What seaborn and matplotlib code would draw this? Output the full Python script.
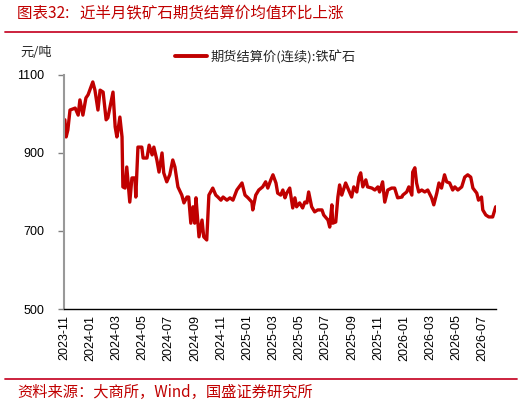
import pandas as pd
import numpy as np
import seaborn as sns
import matplotlib.pyplot as plt
import matplotlib.dates as mdates
from matplotlib.lines import Line2D

# ---- data ----
dates = [
    "2023-11-03", "2023-11-06", "2023-11-10", "2023-11-15", "2023-11-27", "2023-12-04",
    "2023-12-08", "2023-12-15", "2023-12-22", "2023-12-27", "2024-01-07", "2024-01-12",
    "2024-01-19", "2024-01-24", "2024-01-31", "2024-02-07", "2024-02-11", "2024-02-23",
    "2024-02-28", "2024-03-03", "2024-03-05", "2024-03-10", "2024-03-15", "2024-03-17",
    "2024-03-22", "2024-03-26", "2024-04-02", "2024-04-07", "2024-04-14", "2024-04-16",
    "2024-04-21", "2024-04-30", "2024-05-03", "2024-05-12", "2024-05-17", "2024-05-24",
    "2024-05-28", "2024-06-04", "2024-06-09", "2024-06-16", "2024-06-20", "2024-06-27",
    "2024-07-04", "2024-07-11", "2024-07-16", "2024-07-23", "2024-08-01", "2024-08-06",
    "2024-08-13", "2024-08-17", "2024-08-22", "2024-08-27", "2024-08-31", "2024-09-03",
    "2024-09-10", "2024-09-17", "2024-09-21", "2024-09-28", "2024-10-03", "2024-10-12",
    "2024-10-19", "2024-10-24", "2024-10-31", "2024-11-05", "2024-11-14", "2024-11-21",
    "2024-11-28", "2024-12-07", "2024-12-19", "2024-12-26", "2025-01-02", "2025-01-11",
    "2025-01-13", "2025-01-20", "2025-01-27", "2025-02-05", "2025-02-12", "2025-02-17",
    "2025-02-24", "2025-03-01", "2025-03-08", "2025-03-12", "2025-03-19", "2025-03-24",
    "2025-03-29", "2025-04-02", "2025-04-09", "2025-04-16", "2025-04-21", "2025-04-25",
    "2025-05-02", "2025-05-09", "2025-05-14", "2025-05-19", "2025-05-23", "2025-05-30",
    "2025-06-06", "2025-06-13", "2025-06-23", "2025-06-27", "2025-07-07", "2025-07-11",
    "2025-07-16", "2025-07-18", "2025-07-25", "2025-07-30", "2025-08-03", "2025-08-08",
    "2025-08-17", "2025-08-22", "2025-08-31", "2025-09-05", "2025-09-12", "2025-09-17",
    "2025-09-21", "2025-09-26", "2025-10-03", "2025-10-07", "2025-10-17", "2025-10-24",
    "2025-10-31", "2025-11-04", "2025-11-11", "2025-11-16", "2025-11-23", "2025-12-02",
    "2025-12-09", "2025-12-16", "2025-12-26", "2025-12-28", "2026-01-06", "2026-01-11",
    "2026-01-18", "2026-01-20", "2026-01-25", "2026-01-29", "2026-02-03", "2026-02-10",
    "2026-02-17", "2026-02-24", "2026-03-05", "2026-03-10", "2026-03-17", "2026-03-22",
    "2026-03-28", "2026-04-04", "2026-04-09", "2026-04-16", "2026-04-23", "2026-04-28",
    "2026-05-05", "2026-05-14", "2026-05-21", "2026-05-28", "2026-06-04", "2026-06-09",
    "2026-06-18", "2026-06-22", "2026-06-29", "2026-07-02", "2026-07-09", "2026-07-16",
    "2026-07-25", "2026-08-01",
]
price = [
    985, 941, 959, 1010, 1015, 997,
    1036, 997, 1041, 1049, 1082, 1061,
    1010, 1061, 1056, 985, 990, 1056,
    967, 941, 954, 992, 941, 813,
    810, 864, 774, 836, 836, 787,
    915, 915, 887, 887, 920, 895,
    915, 882, 851, 900, 849, 826,
    844, 882, 864, 813, 792, 772,
    787, 787, 720, 762, 720, 785,
    685, 728, 685, 677, 792, 810,
    792, 787, 779, 787, 779, 785,
    779, 805, 823, 792, 785, 774,
    754, 792, 805, 813, 826, 810,
    831, 844, 823, 797, 792, 805,
    785, 797, 810, 759, 785, 762,
    772, 759, 774, 772, 800, 762,
    749, 754, 754, 741, 728, 710,
    767, 720, 723, 787, 818, 792,
    823, 810, 787, 813, 800, 838,
    849, 813, 831, 813, 810, 805,
    813, 800, 826, 774, 805, 810,
    810, 785, 787, 792, 800, 813,
    792, 851, 862, 823, 800, 805,
    800, 805, 785, 767, 797, 823,
    810, 844, 826, 823, 805, 813,
    805, 813, 838, 844, 838, 810,
    797, 779, 787, 754, 741, 736,
    736, 762,
]
series_name = "期货结算价(连续):铁矿石"

RED = "#C00000"

df = pd.DataFrame({"date": pd.to_datetime(dates), "price": price})

sns.set_style("white")
plt.rcParams["font.family"] = ["Liberation Sans", "Noto Sans CJK SC", "DejaVu Sans"]
cjk = ["Noto Sans CJK SC", "DejaVu Sans"]

fig = plt.figure(figsize=(5.31, 4.05), dpi=100)
ax = fig.add_axes([0.1205, 0.237, 0.813, 0.578])

sns.lineplot(data=df, x="date", y="price", ax=ax, color=RED, linewidth=2.4, legend=False)

ax.set_ylim(500, 1100)
ax.set_yticks([500, 700, 900, 1100])
ax.set_xlim(pd.Timestamp("2023-11-01"), pd.Timestamp("2026-08-01"))
ax.xaxis.set_major_locator(mdates.MonthLocator(bymonth=[1, 3, 5, 7, 9, 11]))
ax.xaxis.set_major_formatter(mdates.DateFormatter("%Y-%m"))
for lab in ax.get_xticklabels():
    lab.set_rotation(90)
ax.tick_params(axis="x", length=0, labelsize=9, pad=4, colors="black")
ax.tick_params(axis="y", length=4, width=1, direction="out", labelsize=9,
               pad=10, color="#808080", labelcolor="black", left=True)
ax.set_xlabel("")
ax.set_ylabel("")

for side in ["top", "right"]:
    ax.spines[side].set_visible(False)
ax.spines["left"].set_color("#999999")
ax.spines["left"].set_linewidth(1.5)
ax.spines["bottom"].set_color("black")
ax.spines["bottom"].set_linewidth(1.0)
ax.grid(False)

# unit label
fig.text(20 / 531, 1 - 52 / 405, "元/吨", fontsize=9.5, va="center", ha="left", family=cjk)

# legend
handle = Line2D([], [], color=RED, linewidth=2.8)
fig.legend([handle], [series_name], loc="center left",
           bbox_to_anchor=(170 / 531, 1 - 57 / 405), frameon=False,
           handlelength=2.4, handletextpad=0.3, borderaxespad=0,
           prop={"family": cjk, "size": 9.5})

# title and source
fig.text(17 / 531, 1 - 13 / 405, "图表32:   近半月铁矿石期货结算价均值环比上涨",
         color=RED, fontsize=11.2, style="italic", va="center", ha="left", family=cjk)
fig.add_artist(Line2D([5 / 531, 517 / 531], [1 - 32 / 405, 1 - 32 / 405],
                      color="#C8102E", linewidth=1.3, transform=fig.transFigure))
fig.add_artist(Line2D([5 / 531, 517 / 531], [1 - 379 / 405, 1 - 379 / 405],
                      color="#C8102E", linewidth=1.3, transform=fig.transFigure))
fig.text(17 / 531, 1 - 392 / 405, "资料来源：大商所，Wind，国盛证券研究所",
         color=RED, fontsize=11, style="italic", va="center", ha="left", family=cjk)

fig.savefig("out.png", dpi=100)
